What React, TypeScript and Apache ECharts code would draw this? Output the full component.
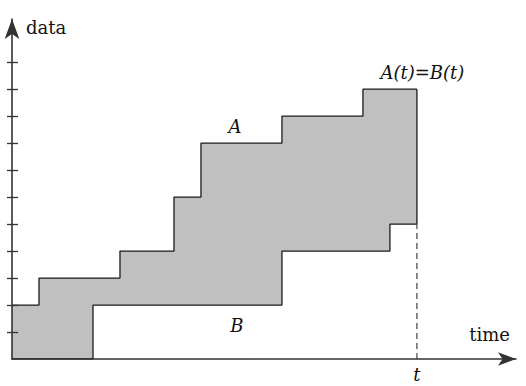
import React, { useEffect, useRef } from "react";
import * as echarts from "echarts";

// Step breakpoints along the time axis and the cumulative curves A and B
const times = [0, 1, 3, 4, 6, 7, 10, 13, 14, 15];
const seriesA = [2, 3, 3, 4, 6, 8, 9, 10, 10, 10];
const seriesB = [0, 0, 2, 2, 2, 2, 4, 4, 5, 5];
const yTicks = [1, 2, 3, 4, 5, 6, 7, 8, 9, 10, 11];
const tLabelAt = [15];

const serif = "DejaVu Serif";
const fontSize = 18;

export default function App() {
  const ref = useRef<HTMLDivElement>(null);

  useEffect(() => {
    if (!ref.current) return;
    const chart = echarts.init(ref.current, undefined, { renderer: "svg" });

    const tEnd = times[times.length - 1];
    const aEnd = seriesA[seriesA.length - 1];
    const bEnd = seriesB[seriesB.length - 1];

    const aPts = times.map((t, i) => [t, seriesA[i]]);
    const bPts = times.map((t, i) => [t, seriesB[i]]);

    const yMax = 12.6;
    const xMax = 18.67;

    const axisLineStyle = { color: "#333", width: 1.6 };

    chart.setOption({
      animation: false,
      grid: { left: 12, right: 10, top: 19, bottom: 27, outerBoundsMode: "none", containLabel: false },
      xAxis: {
        type: "value",
        min: 0,
        max: xMax,
        z: 10,
        name: "time",
        nameLocation: "end",
        nameGap: -6,
        nameTextStyle: {
          fontFamily: serif,
          fontSize,
          color: "#111",
          align: "right",
          verticalAlign: "bottom",
          padding: [0, 0, 16, 0],
        },
        splitLine: { show: false },
        axisTick: { show: false },
        axisLine: {
          show: true,
          onZero: false,
          symbol: ["none", "arrow"],
          symbolSize: [10, 18],
          lineStyle: axisLineStyle,
        },
        axisLabel: {
          customValues: tLabelAt,
          formatter: () => "t",
          fontFamily: serif,
          fontStyle: "italic",
          fontSize,
          color: "#111",
          margin: 6,
        },
      },
      yAxis: [
        {
          type: "value",
          min: 0,
          max: yMax,
          z: 10,
          name: "data",
          nameLocation: "end",
          nameGap: -8,
          nameTextStyle: {
            fontFamily: serif,
            fontSize,
            color: "#111",
            align: "left",
            verticalAlign: "middle",
            padding: [0, 0, 0, 14],
          },
          splitLine: { show: false },
          axisLabel: { show: false },
          axisLine: {
            show: true,
            onZero: false,
            symbol: ["none", "arrow"],
            symbolSize: [11, 20],
            lineStyle: axisLineStyle,
          },
          axisTick: {
            show: true,
            customValues: yTicks,
            length: 5,
            lineStyle: { color: "#333", width: 1.3 },
          },
        },
        {
          type: "value",
          min: 0,
          max: yMax,
          position: "left",
          z: 10,
          splitLine: { show: false },
          axisLabel: { show: false },
          axisLine: { show: false },
          axisTick: {
            show: true,
            inside: true,
            customValues: yTicks,
            length: 6,
            lineStyle: { color: "#333", width: 1.3 },
          },
        },
      ],
      series: [
        {
          // upper curve A, grey fill down to the time axis
          type: "line",
          step: "end",
          data: aPts,
          symbol: "none",
          lineStyle: { color: "#1a1a1a", width: 1.3 },
          areaStyle: { color: "#c0c0c0", opacity: 1 },
          z: 2,
          markPoint: {
            symbol: "circle",
            symbolSize: 0,
            label: {
              show: true,
              position: "inside",
              formatter: "{b}",
              fontFamily: serif,
              fontStyle: "italic",
              fontSize,
              color: "#111",
            },
            data: [
              { name: "A", coord: [8.26, 8.6] },
              { name: "B", coord: [8.33, 1.25] },
              { name: "A(t)=B(t)", coord: [15.2, 10.6] },
            ],
          },
        },
        {
          // lower curve B, white fill clears the area under it
          type: "line",
          step: "end",
          data: bPts,
          symbol: "none",
          lineStyle: { color: "#1a1a1a", width: 1.3 },
          areaStyle: { color: "#ffffff", opacity: 1 },
          z: 3,
        },
        {
          // right edge of the band at time t
          type: "line",
          data: [
            [tEnd, bEnd],
            [tEnd, aEnd],
          ],
          symbol: "none",
          lineStyle: { color: "#1a1a1a", width: 1.3 },
          z: 4,
        },
        {
          type: "line",
          data: [
            [tEnd, 0],
            [tEnd, bEnd],
          ],
          symbol: "none",
          lineStyle: { color: "#333", width: 1.1, type: [6, 4] },
          z: 4,
        },
      ],
    });

    return () => chart.dispose();
  }, []);

  return (
    <div
      ref={ref}
      style={{ position: "fixed", left: 0, top: 0, width: 526, height: 386, background: "#fff" }}
    />
  );
}
